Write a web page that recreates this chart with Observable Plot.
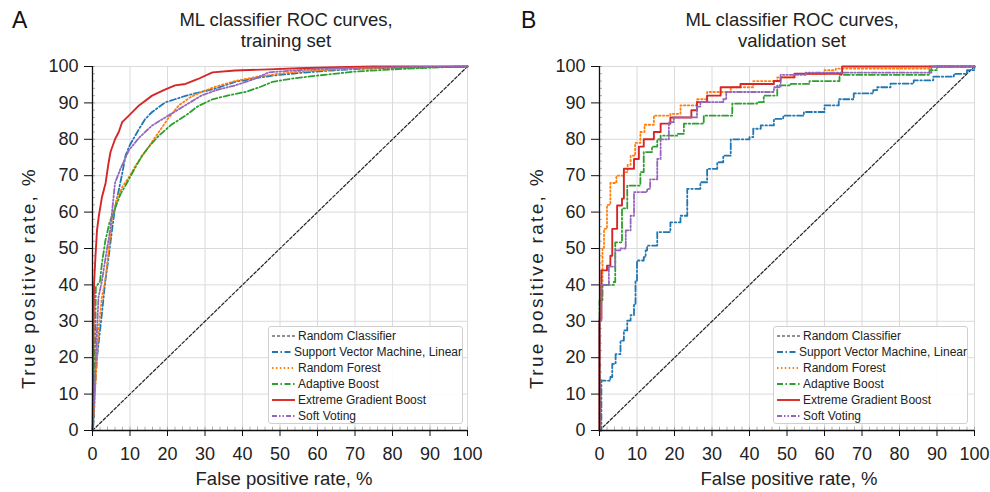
<!DOCTYPE html>
<html><head><meta charset="utf-8">
<script src="https://cdn.jsdelivr.net/npm/d3@7"></script>
<script src="https://cdn.jsdelivr.net/npm/@observablehq/plot@0.6"></script>
<style>
body{margin:0;background:#fff;font-family:"Liberation Sans",Arial,sans-serif;color:#222}
#wrap{position:relative;width:990px;height:492px;overflow:hidden}
.panel{position:absolute;top:0;width:495px;height:492px}
.panel svg{position:absolute;left:0;top:0}
.title{position:absolute;top:9px;font-size:18.5px;line-height:21px;text-align:center;white-space:nowrap;transform:translateX(-50%);color:#222}
.letter{position:absolute;top:7px;font-size:23px;color:#111}
.ylab{position:absolute;font-size:19px;letter-spacing:2.3px;white-space:nowrap;transform:translate(-50%,-50%) rotate(-90deg);color:#222}
.xlab{position:absolute;top:468px;font-size:18.5px;white-space:nowrap;transform:translateX(-50%);color:#222}
.legend{position:absolute;top:326px;width:195px;height:98px;border:1px solid #d0d0d0;border-radius:3px;background:rgba(255,255,255,0.9);box-sizing:border-box;padding-top:1px}
.row{height:16px;display:flex;align-items:center;font-size:12px;white-space:nowrap}
.row svg{position:static;margin-left:3px;margin-right:3px}
</style></head>
<body><div id="wrap"></div>
<script>
// ---------- data ----------
const models = ["Random Classifier","Support Vector Machine, Linear","Random Forest","Adaptive Boost","Extreme Gradient Boost","Soft Voting"];
const colors = ["#222222","#1f77b4","#ff7f0e","#2ca02c","#d62728","#9467bd"];
const dashes = ["3,2","6,2.5,1.5,2.5","1.5,2.4","6,2.5,1.5,2.5",null,"5,2,1.5,2,1.5,2"];
const widths = [1.2,1.8,1.8,1.8,1.9,1.8];
const ticks10 = [0,10,20,30,40,50,60,70,80,90,100];
const minorTicks = d3.range(0, 101, 2);
const diagonal = [[0,0],[100,100]];

// training set (FPR %, TPR %)
const trainSVM = [[0,0],[0.3,2],[0.5,9],[1.2,20],[2,27.5],[2.5,32],[3.4,41],[4.3,47.6],[5.2,55],[6,61],[7,66],[8,71],[8.8,75.5],[10,78.5],[12.4,82.8],[14,85.5],[15.9,87.5],[19.5,90.2],[22,91],[25,92],[29,93],[33,94],[38,95.8],[43,96.7],[48,97.5],[55,98.2],[62,98.8],[70,99.3],[80,99.6],[90,99.8],[100,100]];
const trainRF = [[0,0],[0.5,6],[0.7,11],[1.6,27.5],[2.5,36.6],[3.4,41],[4.3,49.5],[5.2,58],[6.5,63.6],[8,67],[10,70],[11.5,72.8],[14,76.5],[17.7,82],[20,85.5],[23,89.3],[26,91.5],[29,93],[33,94.5],[38,96],[44,97.2],[49.6,98],[55,98.6],[65,99.2],[75,99.6],[85,99.8],[100,100]];
const trainAda = [[0,0],[0.3,10],[0.7,24.7],[0.9,39.4],[2,41],[2.5,45.8],[3.4,52],[4.5,57],[6,61],[7.5,65],[8.8,67.3],[11,71.5],[13.2,75.5],[15.5,78.5],[17.7,81],[21,84],[24.8,86.5],[28,89],[32,91],[36,92],[40.8,93],[45,94.5],[48,95.8],[54,96.8],[60,97.5],[70,98.6],[80,99.2],[90,99.7],[100,100]];
const trainXGB = [[0,0],[0.2,20],[0.4,40],[0.8,48],[1.2,55],[1.7,59],[2.5,64],[3.5,68],[4.2,73],[4.8,76.5],[6,80],[7,82],[7.9,84.7],[9.7,86.5],[12.4,89.3],[15.9,92],[19,93.5],[22,94.8],[24.8,95.2],[28,96.5],[32,98.4],[38,98.9],[47,99.2],[55,99.5],[65,99.8],[75,100],[100,100]];
const trainSoft = [[0,0],[0.4,8],[0.7,14.6],[1.2,27.5],[1.6,36.6],[2.5,41],[3.8,49.5],[4.7,55],[6,68],[7.5,72],[9.7,77],[12.5,80.5],[15.9,83.8],[21,87],[25,89.5],[29,92],[33,93.5],[38,94.8],[43,96.5],[47,98.4],[55,99],[65,99.5],[80,99.8],[100,100]];

// validation set (FPR %, TPR % after each step)
const validSVM = [[0,0],[0.5,13.7],[2.9,14.7],[3.4,18.3],[4.3,21],[5.6,24.7],[6.5,27.5],[7.4,30.2],[8.3,31.7],[9.2,34.8],[9.6,41.2],[10,46.7],[11.8,47.6],[12.3,49.5],[12.7,50.8],[15.4,54.5],[18.9,57.2],[21.6,59],[23.4,66.4],[26.9,68.2],[28.7,71.9],[31.4,73.7],[33,75.5],[35,80],[40,80.6],[41,82.9],[43,83.8],[46.5,85.6],[49,86.5],[54.5,87.5],[60,89.3],[63.8,91],[67.8,92.6],[73,93.5],[74,94.3],[77.6,95.3],[83.8,96.2],[89,97.2],[94.5,98],[98,99],[100,100]];
const validRF = [[0,0],[0,30],[0.3,40],[0.8,50],[1.2,55.4],[2,62],[2.9,68],[4.5,70],[6.5,71],[7.5,73],[8.3,75.5],[9.5,79],[10.9,82],[12,84],[14.5,86.5],[18.9,87],[21.6,89.3],[26,91],[28.7,93],[35,94.3],[41,96],[47.4,97],[52,98],[60,99],[63,99.4],[88,100],[100,100]];
const validAda = [[0,0],[0,35.7],[0.8,40],[3.8,40.8],[4.2,51.7],[6,61],[7.4,67.3],[10.9,71],[11.8,76.5],[14,78],[15.4,80],[16.3,81],[20.7,81.5],[22.5,84.3],[27.8,86.5],[35.4,89.8],[42,90.2],[43.8,92],[47.4,94.8],[51,95.2],[56,96],[64,97.7],[88,99],[90,100],[100,100]];
const validXGB = [[0,0],[0,30.7],[0.5,44],[2,45.3],[2.9,48],[3.4,55.4],[4.7,61.8],[6,63.7],[6.5,71.9],[9.2,74.6],[10.5,78],[11.8,80],[14.5,82],[16.3,84.3],[18.9,86],[24.5,88],[26,90.2],[28.7,92],[32.3,94.3],[37.6,95.2],[46.5,96],[48.3,97],[52,98],[64.7,100],[100,100]];
const validSoft = [[0,0],[0,30],[0.5,40],[2.5,45],[4.2,49.5],[5.6,50],[7,55],[8.3,59],[9.2,65.5],[12.7,66.4],[13.5,69],[15.4,74.6],[16.3,80],[18.5,84.7],[19.8,86],[26,89],[26.9,90.2],[33,91],[33.8,93],[46.5,94.3],[48.3,97.7],[55,98.3],[88.5,100],[100,100]];

// ---------- drawing ----------
const font = "'Liberation Sans', Arial, sans-serif";
function chart(series, curve, ml, mr) {
  const lines = series.map((s, i) => Plot.line(s, {
    x: d => d[0], y: d => d[1], curve: i === 0 ? "linear" : curve,
    stroke: colors[i], strokeWidth: widths[i], strokeDasharray: dashes[i]
  }));
  return Plot.plot({
    width: 495, height: 492,
    marginLeft: ml, marginRight: mr, marginTop: 66, marginBottom: 62,
    x: {domain: [0, 100]}, y: {domain: [0, 100]},
    style: {fontFamily: font, color: "#222", background: "transparent", overflow: "visible"},
    marks: [
      Plot.gridX(ticks10, {stroke: "#dadada", strokeOpacity: 1}),
      Plot.gridY(ticks10, {stroke: "#dadada", strokeOpacity: 1}),
      Plot.ruleX(minorTicks, {x: d => d, y1: 0, y2: 0.9, stroke: "#999", strokeWidth: 0.8}),
      Plot.ruleY(minorTicks, {y: d => d, x1: 0, x2: 0.8, stroke: "#999", strokeWidth: 0.8}),
      ...lines,
      Plot.axisX(ticks10, {tickSize: 6, tickPadding: 11, fontSize: 18, label: null, stroke: "#111"}),
      Plot.axisY(ticks10, {tickSize: 8, tickPadding: 6, fontSize: 18, label: null, stroke: "#111"}),
      Plot.ruleX([0], {stroke: "#111", strokeWidth: 1.3}),
      Plot.ruleY([0], {stroke: "#111", strokeWidth: 1.3})
    ]
  });
}

function legend(left) {
  const box = document.createElement("div");
  box.className = "legend";
  box.style.left = left + "px";
  models.forEach((m, i) => {
    const row = document.createElement("div");
    row.className = "row";
    row.innerHTML = `<svg width="23" height="10"><line x1="0" y1="5" x2="23" y2="5" stroke="${colors[i]}" stroke-width="${widths[i]}" ${dashes[i] ? `stroke-dasharray="${dashes[i]}"` : ""}/></svg><span>${m}</span>`;
    box.appendChild(row);
  });
  return box;
}

const wrap = document.getElementById("wrap");
const panels = [
  {left: 0, letter: "A", sub: "training set", data: [diagonal, trainSVM, trainRF, trainAda, trainXGB, trainSoft], curve: "linear", ml: 92, mr: 28, tc: 286, xc: 284, yl: 29, lg: 268},
  {left: 495, letter: "B", sub: "validation set", data: [diagonal, validSVM, validRF, validAda, validXGB, validSoft], curve: "step-after", ml: 104, mr: 16, tc: 297, xc: 294, yl: 42, lg: 278}
];
panels.forEach(p => {
  const div = document.createElement("div");
  div.className = "panel";
  div.style.left = p.left + "px";
  div.appendChild(chart(p.data, p.curve, p.ml, p.mr));
  div.insertAdjacentHTML("beforeend",
    `<div class="letter" style="left:${p.letter === "A" ? 12 : 26}px">${p.letter}</div>` +
    `<div class="title" style="left:${p.tc}px">ML classifier ROC curves,<br>${p.sub}</div>` +
    `<div class="ylab" style="left:${p.yl}px;top:278px">True positive rate, %</div>` +
    `<div class="xlab" style="left:${p.xc}px">False positive rate, %</div>`);
  div.appendChild(legend(p.lg));
  wrap.appendChild(div);
});
</script></body></html>
